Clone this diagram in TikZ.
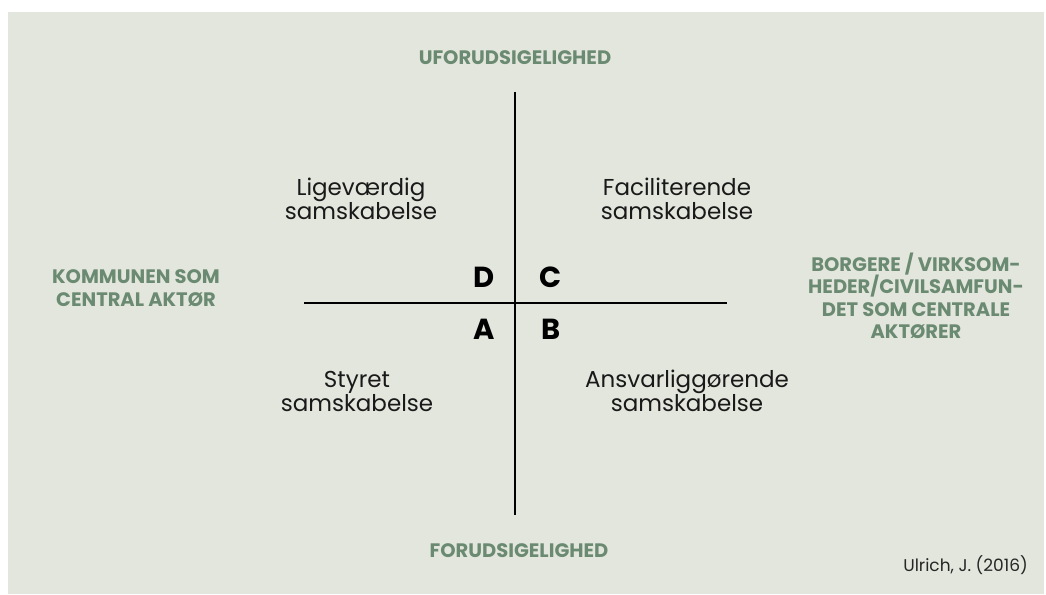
\documentclass[tikz,border=0pt]{standalone}
\usepackage{fontspec}
\setmainfont{Poppins}
\definecolor{panel}{HTML}{E3E6DD}
\definecolor{axisgreen}{HTML}{6B8A72}
\begin{document}
\begin{tikzpicture}[x=1pt,y=-1pt,
  axis/.style={line width=2.2pt,black},
  quadlabel/.style={align=center,font=\fontsize{23}{24}\selectfont,text=black!90,inner sep=0pt},
  polelabel/.style={align=center,font=\fontsize{19.5}{22.5}\selectfont\bfseries,text=axisgreen,inner sep=0pt},
  letter/.style={font=\fontsize{29}{30}\selectfont\bfseries,text=black,inner sep=0pt}]
  % page and panel
  \useasboundingbox (0,0) rectangle (1046,594);
  \fill[white] (0,0) rectangle (1046,594);
  \fill[panel] (8,12) rectangle (1044,594);
  % axes
  \coordinate (top) at (515,92);
  \coordinate (bottom) at (515,515);
  \coordinate (left) at (304,303);
  \coordinate (right) at (727,303);
  \draw[axis] (top) -- (bottom);
  \draw[axis] (left) -- (right);
  % axis poles
  \node[polelabel,anchor=base] (unpred) at (515,65) {UFORUDSIGELIGHED};
  \node[polelabel,anchor=base] (pred) at (519,557) {FORUDSIGELIGHED};
  \node[polelabel] (municipality) at (136,288) {KOMMUNEN SOM\\CENTRAL AKTØR};
  \node[polelabel] (citizens) at (916,296) {BORGERE / VIRKSOM-\\HEDER/CIVILSAMFUN-\\DET SOM CENTRALE\\AKTØRER};
  % quadrant letters
  \node[letter] (qD) at (484,277) {D};
  \node[letter] (qC) at (551,277) {C};
  \node[letter] (qA) at (484,329) {A};
  \node[letter] (qB) at (551,329) {B};
  % quadrant names
  \node[quadlabel] (equal) at (361,199) {Ligeværdig\\samskabelse};
  \node[quadlabel] (facil) at (677,199) {Faciliterende\\samskabelse};
  \node[quadlabel] (steered) at (357,391) {Styret\\samskabelse};
  \node[quadlabel] (account) at (687,391) {Ansvarliggørende\\samskabelse};
  % source
  \node[anchor=base east,font=\fontsize{17}{18}\selectfont,text=black!85,inner sep=0pt] (source) at (1028,571) {Ulrich, J. (2016)};
\end{tikzpicture}
\end{document}
